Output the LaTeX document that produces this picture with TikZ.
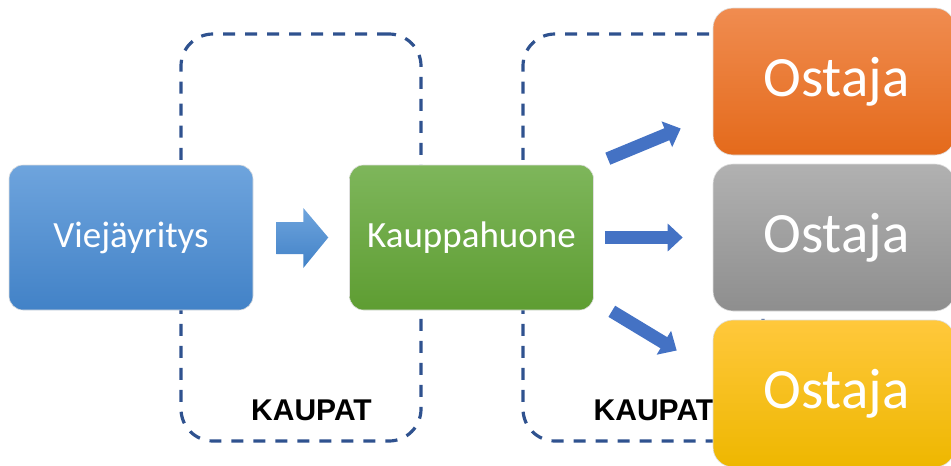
\documentclass[tikz,border=0pt]{standalone}
\usepackage{fontspec}
\setmainfont{Carlito}
\newfontfamily\labelfont{Liberation Sans}
\usetikzlibrary{arrows.meta,calc}

\definecolor{dashblue}{HTML}{2F528F}
\definecolor{arrowblue}{HTML}{4472C4}
\definecolor{blueTop}{HTML}{6EA4DD}
\definecolor{blueBot}{HTML}{4282C7}
\definecolor{greenTop}{HTML}{7EB65B}
\definecolor{greenBot}{HTML}{5E9D32}
\definecolor{orangeTop}{HTML}{F08C50}
\definecolor{orangeBot}{HTML}{E46A1B}
\definecolor{grayTop}{HTML}{B1B1B1}
\definecolor{grayBot}{HTML}{8E8E8E}
\definecolor{yellowTop}{HTML}{FFC83C}
\definecolor{yellowBot}{HTML}{EEB700}

\tikzset{
  zone/.style={draw=dashblue, line width=3.2pt, dash pattern=on 12pt off 10pt,
    rounded corners=32pt, minimum width=240pt, minimum height=407pt, inner sep=0pt},
  zonelabel/.style={font=\labelfont\bfseries\fontsize{30}{32}\selectfont, text=black, inner sep=0pt},
  stepbox/.style={rounded corners=14pt, draw=white!75!gray, line width=0.6pt,
    minimum width=244pt, minimum height=145pt, inner sep=0pt, text=white,
    font=\fontsize{37}{40}\selectfont},
  buyer/.style={rounded corners=20pt, draw=white!75!gray, line width=0.6pt,
    minimum width=242pt, minimum height=147pt, inner sep=0pt, text=white,
    font=\fontsize{57}{60}\selectfont},
  flow/.style={draw=arrowblue, line width=13pt,
    -{Triangle[width=27pt,length=15pt]}, arrowblue},
}

\begin{document}
\begin{tikzpicture}[x=1pt,y=-1pt]
\useasboundingbox (0,0) rectangle (951,466);

% dashed trading zones (behind everything)
\node[zone] (d1) at (301,237.5) {};
\node[zone] (d2) at (643,237.5) {};

% zone captions
\node[zonelabel] (k1) at (311.5,410) {KAUPAT};
\node[zonelabel] (k2) at (654,410) {KAUPAT};

% main boxes
\node[stepbox, top color=blueTop, bottom color=blueBot] (vj) at (131,237.5) {Viejäyritys};
\node[stepbox, top color=greenTop, bottom color=greenBot] (kh) at (471.5,237.5) {Kauppahuone};

% buyers
\node[buyer, top color=orangeTop, bottom color=orangeBot] (o1) at (834,81.5) {\hspace*{5pt}Ostaja};
\node[buyer, top color=grayTop, bottom color=grayBot] (o2) at (834,237.5) {\hspace*{5pt}Ostaja};
\node[buyer, top color=yellowTop, bottom color=yellowBot] (o3) at (834,393.5) {\hspace*{5pt}Ostaja};

% block arrow between the exporter and the trading house
\shade[top color=blueTop, bottom color=blueBot]
  ($(vj.east)+(23,-15.5)$) -- ++(27,0) -- ++(0,-14) -- ($($(vj.east)!0.5!(kh.west)$)+(27,0)$)
  -- ($(vj.east)+(50,30.5)$) -- ++(0,-14) -- ++(-27,0) -- cycle;

% arrows from the trading house to the buyers
\coordinate (t1) at ($(o1.west)+(-32,47)$);
\coordinate (t2) at ($(o2.west)+(-30,0)$);
\coordinate (t3) at ($(o3.west)+(-36,-43)$);
\draw[flow] ($(kh.north east)+(14,-6)$) -- (t1);
\draw[flow] ($(kh.east)+(11,0)$) -- (t2);
\draw[flow] ($(kh.south east)+(18,1)$) -- (t3);
\end{tikzpicture}
\end{document}
